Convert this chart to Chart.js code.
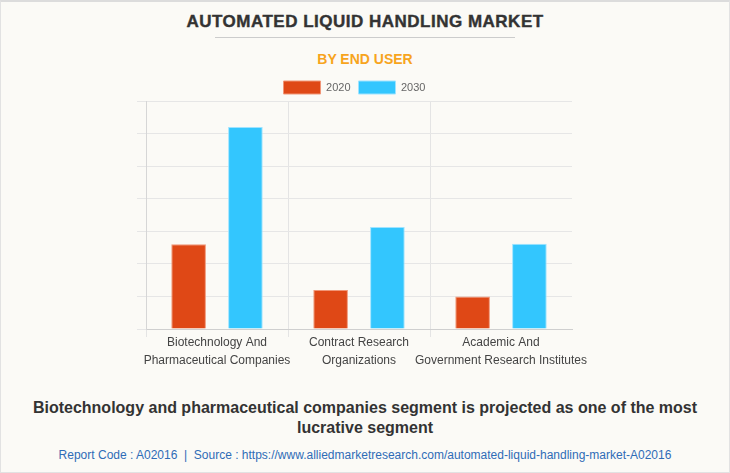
<!DOCTYPE html>
<html>
    <head>
        <script src="https://cdn.jsdelivr.net/npm/chart.js@4/dist/chart.umd.min.js"></script>
        <meta charset="utf-8">
        <title>Automated Liquid Handling Market</title>
        <style>
            body {
                margin: 0;
                font-family: "Liberation Sans", Arial, sans-serif;
            }

            #frame {
                position: relative;
                width: 730px;
                height: 473px;
                box-sizing: border-box;
                border: 1px solid #e2e2e2;
                border-top: 2px solid #dcdcdc;
                background: #fbfaf6;
                overflow: hidden;
            }

            .line {
                position: absolute;
                left: 0;
                width: 728px;
                text-align: center;
                white-space: nowrap;
            }

            #title {
                top: 8px;
                line-height: 23px;
                font-size: 17px;
                font-weight: bold;
                letter-spacing: 0.5px;
                color: #333;
                -webkit-text-stroke: 0.4px #333;
            }

            #rule {
                position: absolute;
                top: 35px;
                left: 214px;
                width: 300px;
                height: 1px;
                background: #cccccc;
            }

            #subtitle {
                top: 47px;
                line-height: 20px;
                font-size: 14px;
                font-weight: bold;
                color: #f7a41d;
            }

            #holder {
                position: absolute;
                top: 71px;
                left: -1px;
                width: 730px;
                height: 294px;
            }

            #note {
                top: 396px;
                line-height: 20px;
                font-size: 16px;
                font-weight: bold;
                color: #333;
            }

            #source {
                top: 444px;
                line-height: 18px;
                font-size: 12px;
                color: #2f6cb6;
            }
        </style>
    </head>

    <body>
        <div id="frame">
            <div class="line" id="title">AUTOMATED LIQUID HANDLING MARKET</div>
            <div id="rule"></div>
            <div class="line" id="subtitle">BY END USER</div>
            <div id="holder"><canvas id="chart"></canvas></div>
            <div class="line" id="note">Biotechnology and pharmaceutical companies segment is projected as one of the most<br>lucrative segment</div>
            <div class="line" id="source">Report Code : A02016&nbsp; | &nbsp;Source : https://www.alliedmarketresearch.com/automated-liquid-handling-market-A02016</div>
        </div>
        <script>
            // values (no axis values shown, relative units)
            const categories = [
                ["Biotechnology And", "Pharmaceutical Companies"],
                ["Contract Research", "Organizations"],
                ["Academic And", "Government Research Institutes"]
            ];
            const seriesNames = ["2020", "2030"];
            const values2020 = [2.6, 1.2, 1.0];
            const values2030 = [6.2, 3.13, 2.62];

            // legend sits closer to the plot than chart.js leaves by default
            const tightLegend = {
                id: "tightLegend",
                afterInit: function(chart) {
                    const fit = chart.legend.fit;
                    chart.legend.fit = function() {
                        fit.call(this);
                        this.height -= 3;
                    };
                }
            };

            const ctx = document.getElementById("chart").getContext("2d");
            const chart = new Chart(ctx, {
                type: "bar",
                data: {
                    labels: categories,
                    datasets: [
                        {
                            label: seriesNames[0],
                            data: values2020,
                            backgroundColor: "#df4816",
                            borderColor: "#f09677",
                            borderWidth: 1
                        },
                        {
                            label: seriesNames[1],
                            data: values2030,
                            backgroundColor: "#33c6fe",
                            borderColor: "#9ee3ff",
                            borderWidth: 1
                        }
                    ]
                },
                options: {
                    responsive: true,
                    maintainAspectRatio: false,
                    animation: false,
                    layout: {
                        padding: {left: 137, right: 158, top: 0, bottom: 0}
                    },
                    datasets: {
                        bar: {categoryPercentage: 0.8, barPercentage: 0.61}
                    },
                    plugins: {
                        tooltip: {enabled: false},
                        legend: {
                            position: "top",
                            labels: {
                                boxWidth: 37,
                                boxHeight: 13,
                                padding: 8,
                                color: "#666",
                                font: {family: "Liberation Sans", size: 11}
                            }
                        }
                    },
                    scales: {
                        x: {
                            grid: {
                                offset: true,
                                tickLength: 8,
                                color: function(c) {
                                    return c.type === "tick" ? "#e4e4e4" : "rgba(0,0,0,0)";
                                }
                            },
                            border: {color: "#cfcfcf"},
                            ticks: {
                                padding: -3,
                                maxRotation: 0,
                                autoSkip: false,
                                color: "#444",
                                font: {family: "Liberation Sans", size: 12, lineHeight: 1.5}
                            }
                        },
                        y: {
                            min: 0,
                            max: 7,
                            grid: {tickLength: 9, color: "#e6e6e6"},
                            border: {color: "#d6d6d6"},
                            ticks: {display: false, stepSize: 1}
                        }
                    }
                },
                plugins: [tightLegend]
            });
        </script>
    </body>
</html>
